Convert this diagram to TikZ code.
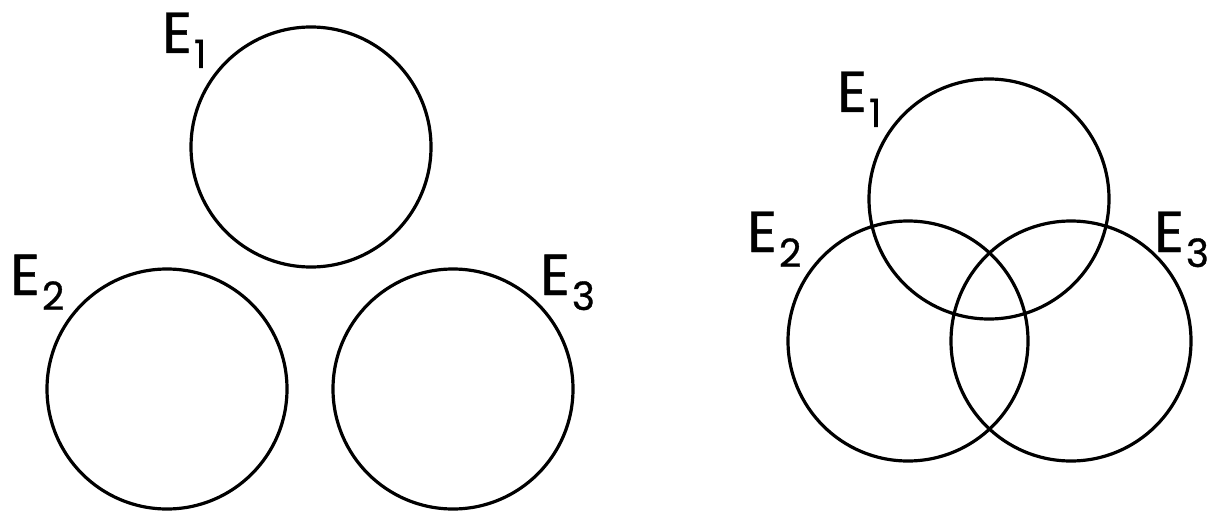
\documentclass[tikz,border=0pt]{standalone}
\usepackage{fontspec}
\setmainfont{Poppins}
\newfontfamily\labfont[FakeBold=0.8]{Poppins}
\newcommand{\lab}[1]{\labfont\fontsize{58}{58}\selectfont E\kern2pt\raisebox{-15pt}{\fontsize{39}{39}\selectfont #1}}
\begin{document}
\begin{tikzpicture}[x=1pt,y=-1pt,
  setc/.style={draw=black,line width=3.2pt,circle,minimum size=240pt,inner sep=0pt},
  lbl/.style={anchor=base west,inner sep=0pt}]
\useasboundingbox (0,0) rectangle (1209,513);
% left
\node[setc] (a1) at (311,147) {};
\node[setc] (a2) at (167,389) {};
\node[setc] (a3) at (453,389) {};
\node[lbl] (la1) at (162,53) {\lab{1}};
\node[lbl] (la2) at (10,295) {\lab{2}};
\node[lbl] (la3) at (540,295) {\lab{3}};
% right
\node[setc] (b1) at (989,199) {};
\node[setc] (b2) at (908,341) {};
\node[setc] (b3) at (1071,341) {};
\node[lbl] (lb1) at (837,112) {\lab{1}};
\node[lbl] (lb2) at (747,252) {\lab{2}};
\node[lbl] (lb3) at (1154,252) {\lab{3}};
\end{tikzpicture}
\end{document}
